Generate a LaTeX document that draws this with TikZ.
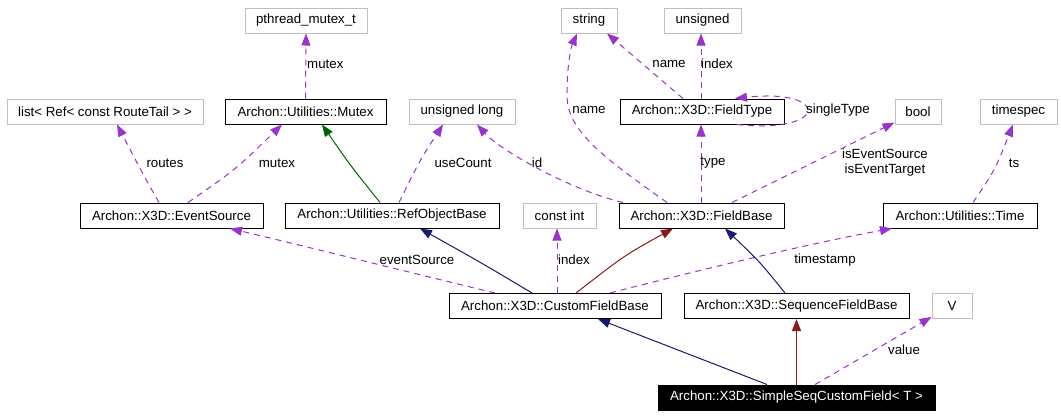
\documentclass[tikz,border=0pt]{standalone}
\usepackage{fontspec}
\setmainfont{Liberation Sans}
\usepackage{tikz}
\usetikzlibrary{arrows.meta}
\usepackage{xcolor}
\definecolor{usecol}{HTML}{9A32CD}
\definecolor{pubcol}{HTML}{191970}
\definecolor{privcol}{HTML}{8B1A1A}
\definecolor{protcol}{HTML}{006400}
\definecolor{extgray}{HTML}{BFBFBF}
\begin{document}
\begin{tikzpicture}[x=1pt,y=-1pt,>={Triangle[length=12pt,width=9pt]},font=\fontsize{13.3}{15}\selectfont,
  cls/.style={draw=black,line width=1pt,minimum height=25pt,inner sep=0pt},
  ext/.style={draw=extgray,line width=1pt,minimum height=25pt,inner sep=0pt},
  lbl/.style={inner sep=0pt},
  usage/.style={->,usecol,line width=1pt,dash pattern=on 6pt off 5pt},
  pubinh/.style={->,pubcol,line width=1pt},
  privinh/.style={->,privcol,line width=1pt},
  protinh/.style={->,protcol,line width=1pt}]
\useasboundingbox (0,0) rectangle (1061,416);
\node[ext,minimum width=122pt] (pthread) at (306,20.5) {pthread\_mutex\_t};
\node[ext,minimum width=196pt] (routelist) at (105,111.5) {list< Ref< const RouteTail > >};
\node[cls,minimum width=161pt] (mutex) at (305.5,111.5) {Archon::Utilities::Mutex};
\node[ext,minimum width=106pt] (ulong) at (462,111.5) {unsigned long};
\node[ext,minimum width=56pt] (string) at (589,20.5) {string};
\node[ext,minimum width=77pt] (unsigned) at (702.5,20.5) {unsigned};
\node[cls,minimum width=164pt] (fieldtype) at (702,111.5) {Archon::X3D::FieldType};
\node[ext,minimum width=46pt] (bool) at (918,111.5) {bool};
\node[ext,minimum width=77pt] (timespec) at (1018.5,111.5) {timespec};
\node[cls,minimum width=183pt] (evsrc) at (171.5,215.5) {Archon::X3D::EventSource};
\node[cls,minimum width=214pt] (refobj) at (392,215.5) {Archon::Utilities::RefObjectBase};
\node[ext,minimum width=73pt] (constint) at (559.5,215.5) {const int};
\node[cls,minimum width=165pt] (fieldbase) at (701.5,215.5) {Archon::X3D::FieldBase};
\node[cls,minimum width=154pt] (time) at (960,215.5) {Archon::Utilities::Time};
\node[cls,minimum width=212pt] (custombase) at (555,306) {Archon::X3D::CustomFieldBase};
\node[cls,minimum width=225pt] (seqbase) at (796.5,306) {Archon::X3D::SequenceFieldBase};
\node[ext,minimum width=40pt] (valtype) at (952,306) {V};
\node[cls,fill=black,text=white,minimum width=277pt] (simple) at (796.5,397.5) {Archon::X3D::SimpleSeqCustomField< T >};
\draw[usage] (mutex.north) -- (pthread.south);
\node[lbl,anchor=west] (lmutexa) at (307,64) {mutex};
\draw[usage] ([xshift=-12.5pt]evsrc.north) .. controls (145,178) .. ([xshift=12pt]routelist.south);
\node[lbl] (lroutes) at (165,163) {routes};
\draw[usage] ([xshift=16.5pt]evsrc.north) .. controls (235,170) .. ([xshift=-23.5pt]mutex.south);
\node[lbl] (lmutexb) at (277,163) {mutex};
\draw[protinh] ([xshift=-12pt]refobj.north) .. controls (350,165) .. ([xshift=16.5pt]mutex.south);
\draw[usage] ([xshift=7pt]refobj.north) .. controls (420,160) .. ([xshift=-19pt]ulong.south);
\node[lbl] (lusecount) at (463,163) {useCount};
\draw[usage] ([xshift=-78.5pt]fieldbase.north) .. controls (570,190) and (500,150) .. ([xshift=15pt]ulong.south);
\node[lbl] (lid) at (537,163) {id};
\draw[usage] ([xshift=-34.5pt]fieldbase.north) .. controls (600,155) and (567,130) .. (567,95) .. controls (567,60) and (572,45) .. ([xshift=-12pt]string.south);
\node[lbl] (lnamea) at (589,110) {name};
\draw[usage] ([xshift=-19pt]fieldtype.north) -- ([xshift=18pt]string.south);
\node[lbl] (lnameb) at (669,64) {name};
\draw[usage] ([xshift=-1pt]fieldtype.north) -- ([xshift=-1.5pt]unsigned.south);
\node[lbl] (lindexa) at (717,64) {index};
\draw[usage] ([xshift=35pt]fieldtype.south) .. controls (830,134) and (830,88) .. ([xshift=33pt]fieldtype.north);
\node[lbl] (lsingle) at (838,110) {singleType};
\draw[usage] ([xshift=-0.5pt]fieldbase.north) -- ([xshift=-1pt]fieldtype.south);
\node[lbl] (ltype) at (713,163) {type};
\draw[usage] ([xshift=30.5pt]fieldbase.north) -- ([yshift=2pt]bool.south west);
\node[lbl,align=center] (lflags) at (885,163) {isEventSource\\isEventTarget};
\draw[usage] ([xshift=13pt]time.north) .. controls (995,170) .. ([xshift=-5.5pt]timespec.south);
\node[lbl] (lts) at (1014,163) {ts};
\draw[usage] ([xshift=-60pt]custombase.north) .. controls (400,270) and (300,245) .. ([xshift=58.5pt]evsrc.south);
\node[lbl] (levsrc) at (417,260) {eventSource};
\draw[pubinh] ([xshift=-23pt]custombase.north) .. controls (480,262) .. ([xshift=28pt]refobj.south);
\draw[usage] ([xshift=2pt]custombase.north) -- ([xshift=-2.5pt]constint.south);
\node[lbl] (lindexb) at (574,260) {index};
\draw[privinh] ([xshift=21pt]custombase.north) .. controls (625,255) .. ([xshift=-28.5pt]fieldbase.south);
\draw[usage] ([xshift=55pt]custombase.north) .. controls (660,280) and (800,245) .. ([xshift=-68pt]time.south);
\node[lbl] (lstamp) at (825,260) {timestamp};
\draw[pubinh] ([xshift=-11.5pt]seqbase.north) .. controls (760,262) .. ([xshift=23.5pt]fieldbase.south);
\draw[pubinh] ([xshift=-29.5pt]simple.north) -- ([xshift=43pt]custombase.south);
\draw[privinh] (simple.north) -- (seqbase.south);
\draw[usage] ([xshift=18.5pt]simple.north) -- ([yshift=2pt]valtype.south west);
\node[lbl] (lvalue) at (904,350) {value};
\end{tikzpicture}
\end{document}
